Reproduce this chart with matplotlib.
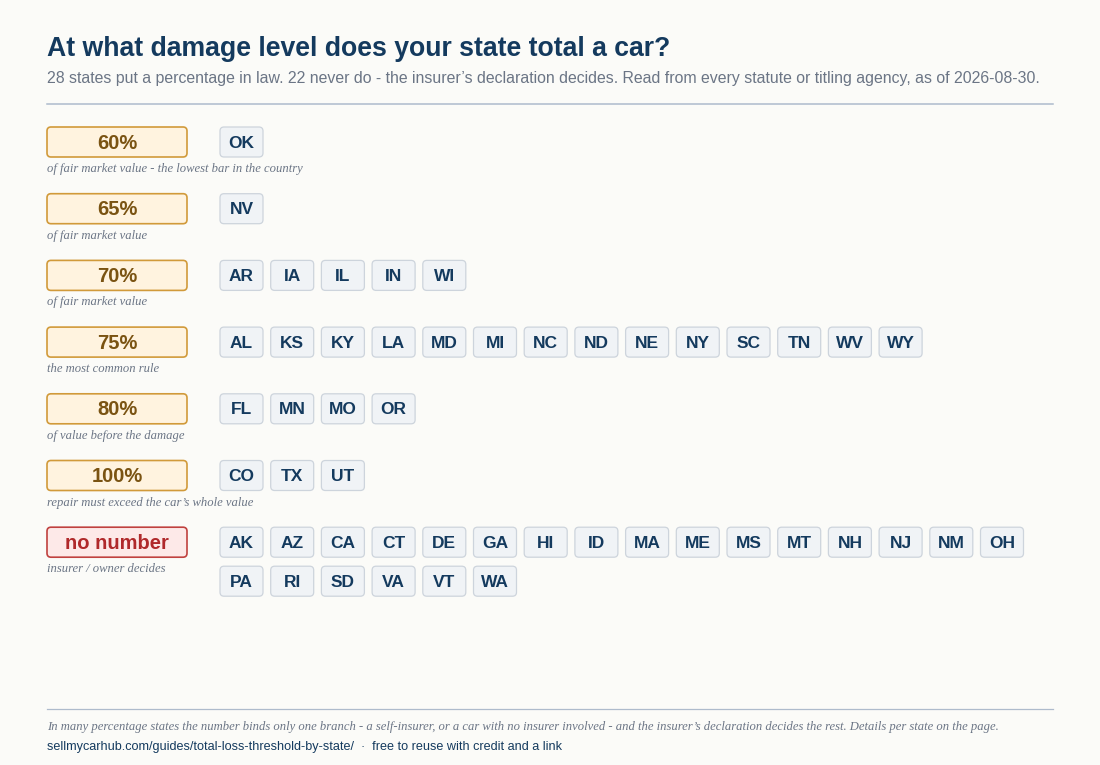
import matplotlib
matplotlib.use("Agg")
import matplotlib.pyplot as plt
from matplotlib.patches import FancyBboxPatch

TITLE = "At what damage level does your state total a car?"
SUBTITLE = ("28 states put a percentage in law. 22 never do - the insurer\u2019s declaration decides. "
            "Read from every statute or titling agency, as of 2026-08-30.")
FOOTNOTE = ("In many percentage states the number binds only one branch - a self-insurer, or a car with no "
            "insurer involved - and the insurer\u2019s declaration decides the rest. Details per state on the page.")
SOURCE = "sellmycarhub.com/guides/total-loss-threshold-by-state/  \u00b7  free to reuse with credit and a link"

tiers = ["60%", "65%", "70%", "75%", "80%", "100%", "no number"]
notes = [
    "of fair market value - the lowest bar in the country",
    "of fair market value",
    "of fair market value",
    "the most common rule",
    "of value before the damage",
    "repair must exceed the car\u2019s whole value",
    "insurer / owner decides",
]
states = [
    ["OK"],
    ["NV"],
    ["AR", "IA", "IL", "IN", "WI"],
    ["AL", "KS", "KY", "LA", "MD", "MI", "NC", "ND", "NE", "NY", "SC", "TN", "WV", "WY"],
    ["FL", "MN", "MO", "OR"],
    ["CO", "TX", "UT"],
    ["AK", "AZ", "CA", "CT", "DE", "GA", "HI", "ID", "MA", "ME", "MS", "MT", "NH", "NJ", "NM", "OH",
     "PA", "RI", "SD", "VA", "VT", "WA"],
]

BG = "#fbfbf8"
NAVY = "#143a5e"
GREY = "#6b7585"
RULE = "#aebbcc"

W, H = 1100, 765
fig = plt.figure(figsize=(W / 100, H / 100), dpi=100, facecolor=BG)
ax = fig.add_axes([0, 0, 1, 1])
ax.set_xlim(0, W)
ax.set_ylim(H, 0)
ax.axis("off")
ax.set_facecolor(BG)

LEFT, RIGHT = 47, 1053
ax.text(LEFT, 49, TITLE, fontsize=19.2, fontweight="bold", color=NAVY,
        family="Liberation Sans", va="center", ha="left")
ax.text(LEFT, 78, SUBTITLE, fontsize=11.4, color=GREY,
        family="Liberation Sans", va="center", ha="left")
ax.plot([LEFT, RIGHT], [104, 104], color=RULE, lw=1.1)


def box(x, y, w, h, face, edge, lw=1.0):
    ax.add_patch(FancyBboxPatch((x, y), w, h, boxstyle="round,pad=0,rounding_size=4",
                                facecolor=face, edgecolor=edge, lw=lw))


row0, row_step = 142, 66.7
chip_x0, chip_step, chip_w, chip_h = 220, 50.7, 43, 30
per_line, line_step = 16, 39

for i, (tier, note, sts) in enumerate(zip(tiers, notes, states)):
    yc = row0 + i * row_step
    if tier == "no number":
        face, edge, tc = "#fde9e8", "#c0413f", "#b0292b"
    else:
        face, edge, tc = "#fff3df", "#d19a3a", "#7a5312"
    box(LEFT, yc - 15, 140, 30, face, edge, lw=1.2)
    ax.text(LEFT + 70, yc + 1, tier, fontsize=14.5, fontweight="bold", color=tc,
            family="Liberation Sans", ha="center", va="center")
    ax.text(LEFT, yc + 27, note, fontsize=9.1, style="italic", color=GREY,
            family="Liberation Serif", ha="left", va="center")
    for j, st in enumerate(sts):
        cx = chip_x0 + (j % per_line) * chip_step
        cy = yc + (j // per_line) * line_step
        box(cx, cy - chip_h / 2, chip_w, chip_h, "#f0f3f6", "#cdd4dc", lw=0.9)
        ax.text(cx + chip_w / 2, cy + 1, st, fontsize=12.5, fontweight="bold", color=NAVY,
                family="Liberation Sans", ha="center", va="center")

ax.plot([LEFT, RIGHT], [709, 709], color=RULE, lw=0.9)
ax.text(LEFT, 727, FOOTNOTE, fontsize=9.1, style="italic", color=GREY,
        family="Liberation Serif", ha="left", va="center")
ax.text(LEFT, 747, SOURCE, fontsize=9.1, color=NAVY,
        family="Liberation Sans", ha="left", va="center")

fig.savefig("out.png", dpi=100, facecolor=BG)
